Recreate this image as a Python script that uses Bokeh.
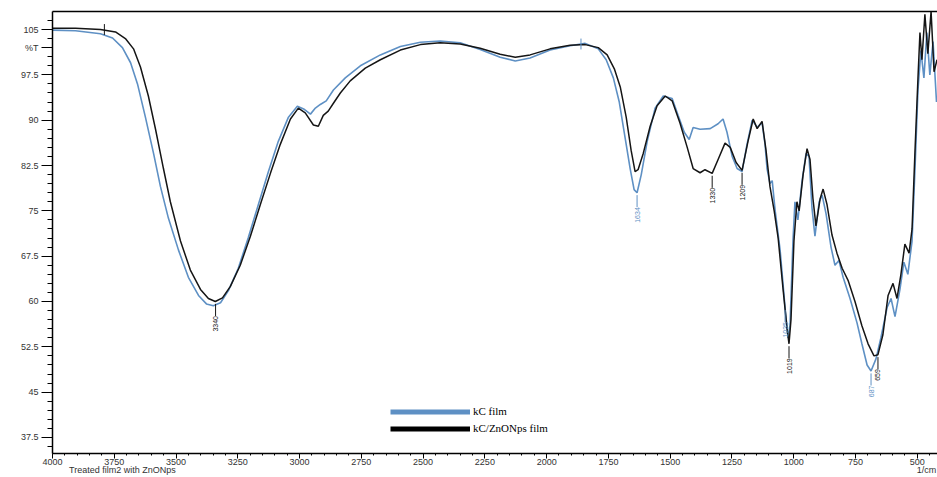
import math
from bokeh.plotting import figure
from bokeh.models import (ColumnDataSource, Range1d, FixedTicker, LinearAxis, Legend, LegendItem)
from bokeh.core.properties import value
from bokeh.embed import file_html
from bokeh.resources import INLINE

# ---------------- data ----------------
wn_black = [4000, 3907, 3806, 3745, 3705, 3672, 3644, 3612, 3583, 3551, 3523, 3482, 3442, 3401, 3369,
            3341, 3312, 3280, 3240, 3199, 3159, 3118, 3078, 3037, 3005, 2977, 2944, 2924, 2904, 2884,
            2863, 2835, 2795, 2734, 2673, 2592, 2511, 2431, 2350, 2269, 2188, 2127, 2067, 1986, 1905,
            1844, 1791, 1755, 1726, 1702, 1678, 1658, 1642, 1630, 1609, 1581, 1553, 1520, 1492, 1460,
            1431, 1407, 1379, 1359, 1330, 1306, 1278, 1257, 1233, 1209, 1185, 1164, 1148, 1128, 1112,
            1096, 1079, 1063, 1043, 1027, 1019, 1011, 999, 987, 978, 962, 946, 934, 922, 910,
            893, 881, 865, 845, 825, 804, 780, 752, 724, 699, 675, 659, 639, 618, 598,
            582, 566, 550, 533, 521, 509, 497, 489, 481, 469, 457, 444, 432, 420]
t_black = [105.2, 105.2, 105.0, 104.6, 103.5, 101.8, 98.8, 94.0, 88.5, 82.0, 76.5, 70.0, 65.2, 62.0, 60.5,
           60.0, 60.6, 62.5, 66.0, 70.8, 76.0, 81.2, 86.0, 90.2, 92.0, 91.2, 89.2, 89.0, 90.8, 91.5,
           92.8, 94.5, 96.5, 98.6, 100.0, 101.6, 102.5, 102.8, 102.6, 101.9, 100.9, 100.4, 100.8, 101.8, 102.4,
           102.5, 102.0, 100.8, 98.5, 95.5, 90.5, 85.0, 81.5, 81.8, 84.5, 89.0, 92.4, 94.0, 93.2, 89.5,
           85.5, 82.0, 81.3, 81.8, 81.2, 83.5, 86.2, 85.5, 83.0, 81.7, 86.5, 90.2, 88.6, 89.8, 85.0,
           79.0, 75.0, 70.5, 62.0, 55.5, 53.0, 57.0, 70.0, 76.5, 75.0, 81.0, 85.3, 83.5, 77.0, 72.5,
           77.0, 78.6, 76.0, 71.0, 68.0, 65.5, 63.5, 60.0, 56.0, 53.0, 51.0, 51.2, 54.5, 61.0, 63.0,
           60.5, 64.5, 69.5, 68.0, 72.0, 85.0, 97.0, 104.5, 100.0, 107.5, 101.0, 108.0, 98.0, 100.0]

wn_blue = [4000, 3907, 3806, 3757, 3717, 3684, 3656, 3624, 3591, 3563, 3531, 3490, 3450, 3409, 3377,
           3349, 3320, 3288, 3248, 3208, 3167, 3126, 3086, 3045, 3009, 2981, 2956, 2936, 2916, 2892,
           2863, 2815, 2754, 2673, 2592, 2511, 2431, 2350, 2269, 2188, 2127, 2067, 1986, 1905, 1844,
           1791, 1759, 1730, 1706, 1682, 1662, 1646, 1634, 1617, 1593, 1561, 1528, 1492, 1468, 1443,
           1423, 1407, 1379, 1338, 1306, 1286, 1270, 1249, 1229, 1209, 1189, 1168, 1148, 1128, 1116,
           1108, 1096, 1087, 1075, 1055, 1035, 1023, 1015, 1003, 995, 983, 966, 950, 938, 926,
           914, 897, 885, 869, 849, 833, 817, 800, 772, 744, 724, 703, 687, 667, 647,
           622, 606, 590, 570, 554, 538, 521, 509, 497, 485, 473, 461, 449, 436, 422]
t_blue = [104.9, 104.8, 104.3, 103.6, 102.0, 99.5, 96.0, 90.5, 84.5, 79.0, 73.8, 68.5, 64.0, 61.0, 59.6,
          59.3, 59.8, 61.8, 65.5, 70.5, 76.0, 81.5, 86.5, 90.5, 92.3, 91.8, 91.0, 92.0, 92.6, 93.2,
          95.0, 97.0, 99.0, 100.8, 102.2, 102.9, 103.1, 102.8, 101.7, 100.4, 99.8, 100.3, 101.6, 102.3, 102.7,
          101.8, 100.0, 97.0, 93.0, 87.0, 82.0, 78.5, 78.0, 81.0, 86.5, 92.0, 94.0, 93.6, 90.8, 88.0,
          86.8, 88.8, 88.5, 88.6, 89.4, 90.2, 88.0, 84.0, 82.0, 81.5, 86.0, 90.0, 88.8, 89.6, 86.0,
          82.0, 79.5, 80.0, 75.0, 68.5, 59.0, 54.0, 56.0, 70.0, 76.5, 73.5, 80.0, 84.5, 84.0, 75.5,
          70.8, 76.5, 77.6, 74.5, 69.0, 66.0, 66.8, 64.0, 60.5, 56.5, 53.0, 49.5, 48.5, 50.5, 54.0,
          59.0, 60.5, 57.5, 62.0, 66.5, 64.5, 70.0, 82.0, 95.0, 101.5, 97.0, 104.5, 97.5, 103.0, 93.0]

# labelled peaks (minima) and unlabelled peak markers
peak_wn_black = [3340, 1330, 1209, 1019, 659]
peak_t_black = [60.0, 81.2, 81.7, 53.0, 51.2]
peak_wn_blue = [1634, 1035, 687]
peak_t_blue = [78.0, 59.0, 48.5]
mark_wn_black = [3790]
mark_t_black = [105.0]
mark_wn_blue = [1861]
mark_t_blue = [102.6]

series_names = ["kC film", "kC/ZnONps film"]
y_ticks = [37.5, 45, 52.5, 60, 67.5, 75, 82.5, 90, 97.5, 105]
y_unit_tick = 102.0
y_unit_label = "%T"
x_ticks = list(range(500, 4001, 250))
x_caption_pos = [3717, 463]
x_captions = ["Treated film2 with ZnONps", "1/cm"]

BLUE = "#5e90c4"
BLACK = "#151515"
SANS = "Liberation Sans"
SERIF = "Liberation Serif"

X_START, X_END = 4000, 418
Y_START, Y_END = 34.85, 107.98

p = figure(width=937, height=477, output_backend="svg", toolbar_location=None,
           x_range=Range1d(X_START, X_END), y_range=Range1d(Y_START, Y_END),
           min_border_left=52, min_border_right=0, min_border_top=11, min_border_bottom=24)
p.outline_line_color = None
p.grid.visible = False
p.background_fill_color = "white"
p.border_fill_color = "white"

# curves
p.line(wn_blue, t_blue, line_color=BLUE, line_width=1.6)
p.line(wn_black, t_black, line_color=BLACK, line_width=1.5)

# peak label ticks and texts
for wns, ts, col in [(peak_wn_black, peak_t_black, BLACK), (peak_wn_blue, peak_t_blue, BLUE)]:
    src = ColumnDataSource(dict(x=wns, y0=[t - 0.4 for t in ts], y1=[t - 2.4 for t in ts],
                                label=[str(w) for w in wns]))
    p.segment(x0="x", y0="y0", x1="x", y1="y1", source=src, line_color=col, line_width=1)
    p.text(x="x", y="y1", text="label", source=src, angle=math.pi / 2, text_align="right",
           text_baseline="middle", text_font_size="7px", text_font=value(SANS), text_color=col)

for wns, ts, col in [(mark_wn_black, mark_t_black, BLACK), (mark_wn_blue, mark_t_blue, BLUE)]:
    src = ColumnDataSource(dict(x=wns, y0=[t + 0.9 for t in ts], y1=[t - 0.9 for t in ts]))
    p.segment(x0="x", y0="y0", x1="x", y1="y1", source=src, line_color=col, line_width=1)

# legend with thick swatches (renderers carry no drawable points)
nan = float("nan")
leg_blue = p.line(x=[nan], y=[nan], line_color=BLUE, line_width=5)
leg_black = p.line(x=[nan], y=[nan], line_color="black", line_width=5)
legend = Legend(items=[LegendItem(label=series_names[0], renderers=[leg_blue]),
                       LegendItem(label=series_names[1], renderers=[leg_black])],
                location=(338, 19), orientation="vertical", glyph_width=80, glyph_height=11,
                label_height=11, spacing=5, padding=0, margin=0, label_standoff=3,
                border_line_color=None, background_fill_alpha=0,
                label_text_font=SERIF, label_text_font_size="11px", label_text_color="black")
p.add_layout(legend)

# axes
xa = p.xaxis[0]
xa.ticker = FixedTicker(ticks=x_ticks, minor_ticks=list(range(450, 4001, 50)))
xa.major_tick_out = 5
xa.major_tick_in = 0
xa.minor_tick_out = 2
xa.minor_tick_in = 0
xa.major_label_standoff = 0
xa.major_label_text_font = SANS
xa.major_label_text_font_size = "9px"
xa.major_label_text_color = "#333333"
xa.axis_line_color = "black"
xa.axis_line_width = 1.5

# second (line-less) bottom axis carrying the captions under the tick labels
cap = LinearAxis(ticker=FixedTicker(ticks=x_caption_pos),
                 major_label_overrides={v: t for v, t in zip(x_caption_pos, x_captions)},
                 axis_line_color=None, major_tick_line_color=None, minor_tick_line_color=None,
                 major_tick_out=0, major_tick_in=0, major_label_standoff=-3,
                 major_label_text_font=SANS, major_label_text_font_size="9px",
                 major_label_text_color="#333333")
p.add_layout(cap, "below")

ya = p.yaxis[0]
ya.ticker = FixedTicker(ticks=y_ticks + [y_unit_tick], minor_ticks=[36 + 1.5 * i for i in range(49)])
ya.major_tick_out = 11
ya.major_tick_in = 0
ya.minor_tick_out = 5
ya.minor_tick_in = 0
ya.major_label_standoff = 3
ya.major_label_text_font = SANS
ya.major_label_text_font_size = "9px"
ya.major_label_text_color = "#333333"
ya.axis_line_color = "black"
ya.axis_line_width = 1.5
overrides = {v: f"{v:g}" for v in y_ticks}
overrides[y_unit_tick] = y_unit_label
ya.major_label_overrides = overrides

top = LinearAxis(ticker=FixedTicker(ticks=[]), axis_line_color="black", axis_line_width=1.5,
                 major_tick_line_color=None, minor_tick_line_color=None,
                 major_label_text_font_size="0px", major_label_standoff=0)
p.add_layout(top, "above")

open("out.html", "w").write(file_html(p, INLINE))
